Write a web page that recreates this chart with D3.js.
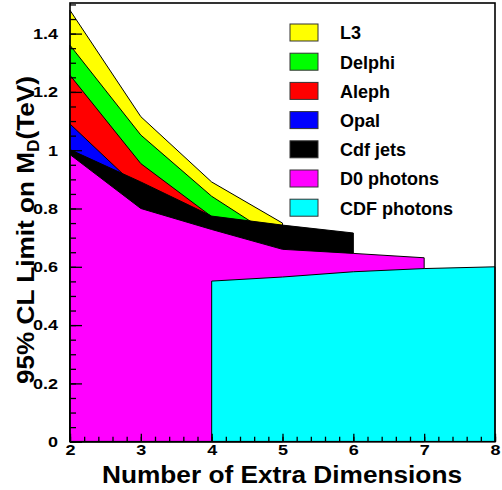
<!DOCTYPE html>
<html>
<head>
<meta charset="utf-8">
<script src="https://cdn.jsdelivr.net/npm/d3@7/dist/d3.min.js"></script>
<style>
  html, body { margin: 0; padding: 0; background: #fff; }
  svg text { font-family: "Liberation Sans", Arial, Helvetica, sans-serif; font-weight: bold; fill: #000; }
</style>
</head>
<body>
<svg id="chart" width="502" height="490"></svg>
<script>
// Lower limits on the fundamental scale M_D vs. number of extra dimensions
const dims = [2, 3, 4, 5, 6, 7, 8];

const l3       = [1.48, 1.115, 0.891, 0.75];
const delphi   = [1.36, 1.052, 0.842, 0.685];
const aleph    = [1.257, 0.954, 0.772];
const opal     = [1.09, 0.86];
const cdfJets  = [1.002, 0.891, 0.774, 0.743, 0.716];
const d0Phot   = [0.985, 0.80, 0.728, 0.66, 0.646, 0.631];
const cdfPhot  = [0.551, 0.565, 0.583, 0.594, 0.600];   // starts at n = 4

const yTicks = [0, 0.2, 0.4, 0.6, 0.8, 1, 1.2, 1.4];
const xTicks = [2, 3, 4, 5, 6, 7, 8];

const experiments = [
  { name: "L3",          color: "#ffff00", start: 2, values: l3 },
  { name: "Delphi",      color: "#00ff00", start: 2, values: delphi },
  { name: "Aleph",       color: "#ff0000", start: 2, values: aleph },
  { name: "Opal",        color: "#0000ff", start: 2, values: opal },
  { name: "Cdf jets",    color: "#000000", start: 2, values: cdfJets },
  { name: "D0 photons",  color: "#ff00ff", start: 2, values: d0Phot },
  { name: "CDF photons", color: "#00ffff", start: 4, values: cdfPhot }
];

const svg = d3.select("#chart");
const mLeft = 70, mRight = 495, mTop = 3, mBottom = 441.7;

const x = d3.scaleLinear().domain([2, 8]).range([mLeft, mRight]);
const y = d3.scaleLinear().domain([0, 1.505]).range([mBottom, mTop]);

// Filled exclusion regions, each from its limit curve down to zero
const area = d3.area()
  .x(d => x(d.n))
  .y0(y(0))
  .y1(d => y(d.v));

const plot = svg.append("g");
experiments.forEach(e => {
  const pts = e.values.map((v, i) => ({ n: e.start + i, v }));
  plot.append("path")
    .datum(pts)
    .attr("d", area)
    .attr("fill", e.color)
    .attr("stroke", "#000")
    .attr("stroke-width", 1)
    .attr("stroke-linejoin", "round");
});

// Frame
svg.append("rect")
  .attr("x", mLeft).attr("y", mTop)
  .attr("width", mRight - mLeft).attr("height", mBottom - mTop)
  .attr("fill", "none").attr("stroke", "#000").attr("stroke-width", 1.6);

// tick labels are drawn horizontally widened
const stretch = 1.2;

// Y axis: major ticks with labels, minor ticks every 0.05
const yMinor = d3.range(0, 1.5001, 0.05);
svg.append("g")
  .attr("transform", `translate(${mLeft},0)`)
  .call(d3.axisLeft(y).tickValues(yMinor).tickSize(-6).tickFormat(""))
  .call(g => g.select(".domain").remove())
  .call(g => g.selectAll("line").attr("stroke-width", 1.3));

const yAxis = svg.append("g")
  .attr("transform", `translate(${mLeft},0)`)
  .call(d3.axisLeft(y).tickValues(yTicks).tickSize(-12).tickPadding(12)
        .tickFormat(d => String(+d.toFixed(1))))
  .call(g => g.select(".domain").remove())
  .call(g => g.selectAll("line").attr("stroke-width", 1.3));
yAxis.selectAll("text")
  .attr("font-size", 15)
  .attr("x", -12 / stretch)
  .attr("transform", `scale(${stretch},1)`);

// X axis: major ticks at integers, minor every 0.2
const xMinor = d3.range(2, 8.0001, 0.2);
svg.append("g")
  .attr("transform", `translate(0,${mBottom})`)
  .call(d3.axisBottom(x).tickValues(xMinor).tickSize(-5).tickFormat(""))
  .call(g => g.select(".domain").remove())
  .call(g => g.selectAll("line").attr("stroke-width", 1.3));

const xAxis = svg.append("g")
  .attr("transform", `translate(0,${mBottom})`)
  .call(d3.axisBottom(x).tickValues(xTicks).tickSize(-8).tickPadding(2.5).tickFormat(d3.format("d")))
  .call(g => g.select(".domain").remove())
  .call(g => g.selectAll("line").attr("stroke-width", 1.3));
xAxis.selectAll("text")
  .attr("font-size", 15)
  .attr("transform", `scale(${stretch},1)`);

// Axis titles
svg.append("text")
  .attr("x", 282).attr("y", 483)
  .attr("text-anchor", "middle")
  .attr("font-size", 23)
  .attr("textLength", 360)
  .attr("lengthAdjust", "spacingAndGlyphs")
  .text("Number of Extra Dimensions");

const yTitle = svg.append("text")
  .attr("transform", "translate(34,230) rotate(-90)")
  .attr("text-anchor", "middle")
  .attr("font-size", 24)
  .attr("textLength", 308)
  .attr("lengthAdjust", "spacingAndGlyphs");
yTitle.append("tspan").text("95% CL Limit on M");
yTitle.append("tspan").attr("font-size", 16).attr("dy", 5).text("D");
yTitle.append("tspan").attr("dy", -5).text("(TeV)");

// Legend
const legend = svg.append("g").attr("transform", "translate(290,24)");
experiments.forEach((e, i) => {
  const row = legend.append("g").attr("transform", `translate(0,${i * 29.2})`);
  row.append("rect")
    .attr("width", 28).attr("height", 17)
    .attr("fill", e.color)
    .attr("stroke", "#333").attr("stroke-width", 1);
  row.append("text")
    .attr("x", 50).attr("y", 15.3)
    .attr("font-size", 18)
    .text(e.name);
});
</script>
</body>
</html>
